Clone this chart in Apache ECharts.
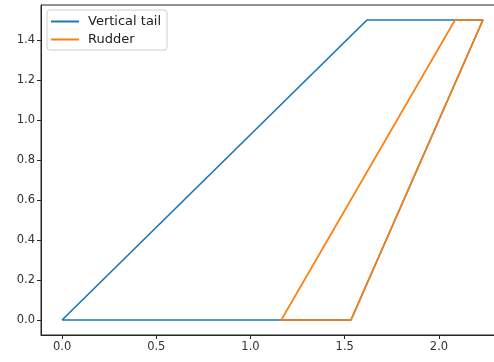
<!DOCTYPE html>
<html>
<head>
<meta charset="utf-8">
<script src="https://cdn.jsdelivr.net/npm/echarts@6/dist/echarts.min.js"></script>
<style>
  html, body { margin: 0; padding: 0; background: #fff; }
  #chart { width: 494px; height: 362px; }
</style>
</head>
<body>
<div id="chart"></div>
<script>
// Planform outlines (x, z) of the fin and its control surface
const tailX = [0, 1.618, 2.233, 1.533, 0];
const tailY = [0, 1.5, 1.5, 0, 0];
const rudderX = [1.163, 2.085, 2.233, 1.533, 1.163];
const rudderY = [0, 1.5, 1.5, 0, 0];
const seriesNames = ['Vertical tail', 'Rudder'];
const xTicks = [0.0, 0.5, 1.0, 1.5, 2.0];
const yTicks = [0.0, 0.2, 0.4, 0.6, 0.8, 1.0, 1.2, 1.4];

const pairs = (xs, ys) => xs.map((x, i) => [x, ys[i]]);
const axisColor = '#262626';
const font = 'DejaVu Sans';

const chart = echarts.init(document.getElementById('chart'), null, { renderer: 'canvas' });
chart.setOption({
  animation: false,
  color: ['#1f77b4', '#ff7f0e'],
  grid: {
    left: 41, top: 5, right: -10, bottom: 27,
    outerBoundsMode: 'none', containLabel: false,
    show: true, borderColor: axisColor, borderWidth: 1,
    backgroundColor: 'transparent'
  },
  xAxis: {
    type: 'value', min: -0.1117, max: 2.345,
    splitLine: { show: false },
    axisLine: { show: true, onZero: false, lineStyle: { color: axisColor } },
    axisTick: { show: true, length: 4, lineStyle: { color: axisColor }, customValues: xTicks },
    axisLabel: {
      customValues: xTicks, color: '#333', fontFamily: font, fontSize: 11.5, margin: 6,
      formatter: v => v.toFixed(1)
    }
  },
  yAxis: {
    type: 'value', min: -0.075, max: 1.575,
    splitLine: { show: false },
    axisLine: { show: true, onZero: false, lineStyle: { color: axisColor } },
    axisTick: { show: true, length: 4, lineStyle: { color: axisColor }, customValues: yTicks },
    axisLabel: {
      customValues: yTicks, color: '#333', fontFamily: font, fontSize: 11.5, margin: 6,
      formatter: v => v.toFixed(1)
    }
  },
  legend: {
    orient: 'vertical', left: 47, top: 10,
    padding: [5, 6, 4, 4], itemGap: 5,
    itemWidth: 28, itemHeight: 2, icon: 'rect',
    borderColor: '#d0d0d0', borderWidth: 1, borderRadius: 3,
    backgroundColor: 'rgba(255,255,255,0.8)',
    textStyle: { fontFamily: font, fontSize: 13, color: '#222', padding: [0, 0, 0, 4] },
    data: seriesNames
  },
  series: [
    {
      name: seriesNames[0], type: 'line', data: pairs(tailX, tailY),
      showSymbol: false, symbol: 'none', lineStyle: { width: 1.7 }
    },
    {
      name: seriesNames[1], type: 'line', data: pairs(rudderX, rudderY),
      showSymbol: false, symbol: 'none', lineStyle: { width: 1.7 }
    }
  ]
});
</script>
</body>
</html>
